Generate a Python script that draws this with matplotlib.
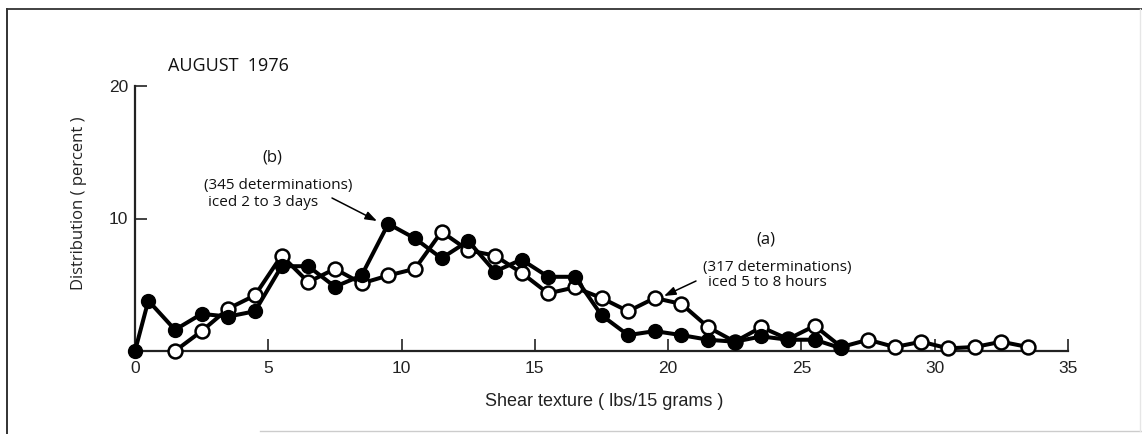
import matplotlib
matplotlib.use("Agg")
import matplotlib.pyplot as plt
from matplotlib.lines import Line2D

# ---- data ----
x_iced_days = [0, 0.5, 1.5, 2.5, 3.5, 4.5, 5.5, 6.5, 7.5, 8.5, 9.5, 10.5, 11.5, 12.5,
               13.5, 14.5, 15.5, 16.5, 17.5, 18.5, 19.5, 20.5, 21.5, 22.5, 23.5, 24.5,
               25.5, 26.5]
y_iced_days = [0, 3.8, 1.6, 2.8, 2.6, 3.0, 6.4, 6.4, 4.85, 5.7, 9.6, 8.5, 7.0, 8.3,
               6.0, 6.9, 5.6, 5.6, 2.7, 1.2, 1.5, 1.2, 0.85, 0.7, 1.1, 0.85,
               0.85, 0.2]

x_iced_hours = [1.5, 2.5, 3.5, 4.5, 5.5, 6.5, 7.5, 8.5, 9.5, 10.5, 11.5, 12.5, 13.5,
                14.5, 15.5, 16.5, 17.5, 18.5, 19.5, 20.5, 21.5, 22.5, 23.5, 24.5,
                25.5, 26.5, 27.5, 28.5, 29.5, 30.5, 31.5, 32.5, 33.5]
y_iced_hours = [0.0, 1.5, 3.2, 4.2, 7.2, 5.2, 6.2, 5.1, 5.7, 6.2, 9.0, 7.6, 7.2,
                5.9, 4.35, 4.8, 4.0, 3.0, 4.0, 3.55, 1.8, 0.7, 1.8, 0.9,
                1.9, 0.3, 0.85, 0.3, 0.7, 0.2, 0.3, 0.7, 0.3]

x_ticks = [0, 5, 10, 15, 20, 25, 30, 35]
y_ticks = [10, 20]

W, H = 1142, 434
fig = plt.figure(figsize=(W / 100, H / 100), dpi=100)
fig.patch.set_facecolor("white")

def fx(px):
    return px / W

def fy(py):
    return 1 - py / H

ax = fig.add_axes([fx(135), 83 / H, 933 / W, 265 / H])
ax.set_xlim(0, 35)
ax.set_ylim(0, 20)
for s in ["top", "right"]:
    ax.spines[s].set_visible(False)
for s in ["left", "bottom"]:
    ax.spines[s].set_linewidth(1.6)
    ax.spines[s].set_color("#222222")

ax.set_xticks(x_ticks)
ax.set_xticklabels([str(v) for v in x_ticks])
ax.set_yticks(y_ticks)
ax.set_yticklabels([str(v) for v in y_ticks])
ax.tick_params(axis="both", direction="in", length=8.5, width=1.2, color="#222222",
               labelsize=12.5, labelcolor="#222222")
ax.tick_params(axis="x", pad=7)
ax.tick_params(axis="y", pad=5)
for lab in ax.get_xticklabels() + ax.get_yticklabels():
    lab.set_fontfamily(["Liberation Sans", "DejaVu Sans"])

ax.plot(x_iced_hours, y_iced_hours, color="black", lw=2.9, marker="o", ms=10,
        mfc="white", mec="black", mew=1.8, clip_on=False, zorder=3)
ax.plot(x_iced_days, y_iced_days, color="black", lw=2.9, marker="o", ms=10,
        mfc="black", mec="black", clip_on=False, zorder=4)

tf = ["Open Sans", "DejaVu Sans"]
fig.text(fx(604), fy(401), "Shear texture ( lbs/15 grams )", ha="center", va="center",
         fontsize=13, family=["Liberation Sans", "DejaVu Sans"], color="#222222")
fig.text(fx(79), fy(203), "Distribution ( percent )", ha="center", va="center",
         rotation=90, fontsize=12, family=tf, color="#222222")
fig.text(fx(168), fy(66), "AUGUST  1976", ha="left", va="center", fontsize=13,
         family=tf, color="#111111")
fig.text(fx(272), fy(158), "(b)", ha="center", va="center", fontsize=12, family=tf,
         color="#111111")
fig.text(fx(204), fy(185), "(345 determinations)", ha="left", va="center",
         fontsize=11, family=tf, color="#111111")
fig.text(fx(208), fy(203), "iced 2 to 3 days", ha="left", va="center",
         fontsize=11, family=tf, color="#111111")
fig.text(fx(766), fy(239), "(a)", ha="center", va="center", fontsize=12, family=tf,
         color="#111111")
fig.text(fx(703), fy(268), "(317 determinations)", ha="left", va="center",
         fontsize=11, family=tf, color="#111111")
fig.text(fx(708), fy(283), "iced 5 to 8 hours", ha="left", va="center",
         fontsize=11, family=tf, color="#111111")

arrow_kw = dict(arrowstyle="-|>,head_length=0.7,head_width=0.25", color="black", lw=1.1,
                shrinkA=0, shrinkB=0)
ax.annotate("", xy=(377, H - 221), xycoords="figure pixels",
            xytext=(332, H - 198), textcoords="figure pixels", arrowprops=arrow_kw)
ax.annotate("", xy=(664, H - 296), xycoords="figure pixels",
            xytext=(696, H - 281), textcoords="figure pixels", arrowprops=arrow_kw)

# outer frame
fig.add_artist(Line2D([fx(7), fx(7)], [0, fy(9)], color="#222222", lw=1.3))
fig.add_artist(Line2D([fx(7), 1], [fy(9), fy(9)], color="#333333", lw=1.3))
fig.add_artist(Line2D([fx(260), 1], [fy(431), fy(431)], color="#cccccc", lw=1.0))
fig.add_artist(Line2D([fx(1140), fx(1140)], [fy(431), fy(9)], color="#e6e6e6", lw=1.0))

fig.savefig("out.png", dpi=100, facecolor="white")
